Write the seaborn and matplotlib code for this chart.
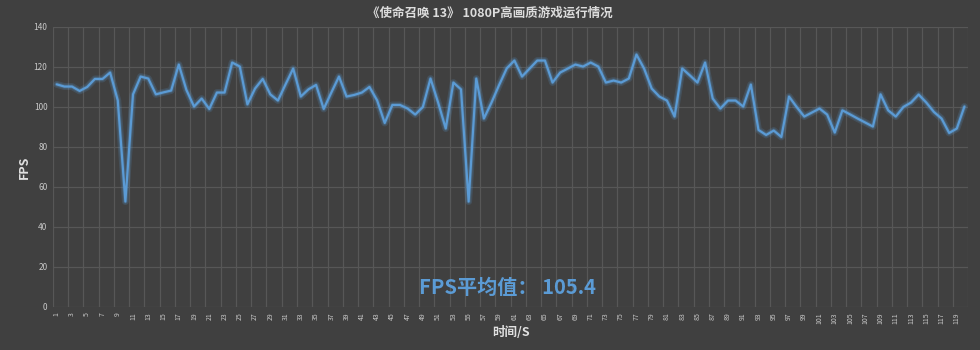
import numpy as np
import pandas as pd
import matplotlib
matplotlib.use("Agg")
import matplotlib.pyplot as plt
import seaborn as sns

# ---- data ----
seconds = list(range(1, 121))
fps = [111.3, 110.2, 110.2, 108.0, 110.0, 114.0, 114.0, 117.2, 103.3, 52.7,
       106.3, 115.2, 114.2, 106.3, 107.3, 108.2, 121.2, 108.5, 100.2, 104.2,
       99.0, 107.2, 107.2, 122.2, 120.2, 101.3, 109.2, 114.0, 106.3, 103.2,
       111.3, 119.2, 105.2, 108.8, 111.0, 99.0, 107.2, 115.2, 105.2, 106.0,
       107.2, 110.0, 103.3, 92.0, 101.0, 101.0, 99.2, 96.2, 100.0, 114.2,
       102.2, 89.2, 112.2, 108.8, 52.7, 114.2, 94.2, 102.2, 111.0, 119.3,
       123.2, 115.2, 119.2, 123.2, 123.2, 112.2, 117.2, 119.2, 121.2, 120.2,
       122.2, 120.2, 112.2, 113.2, 112.2, 114.2, 126.2, 119.2, 109.2, 105.2,
       103.2, 95.2, 119.2, 115.8, 112.2, 122.2, 104.2, 99.2, 103.2, 103.2,
       100.2, 111.2, 88.5, 86.0, 88.2, 85.0, 105.2, 100.0, 95.2, 97.2,
       99.2, 96.2, 87.2, 98.3, 96.3, 94.2, 92.2, 90.2, 106.3, 98.3,
       95.2, 100.0, 102.2, 106.2, 102.2, 97.5, 94.2, 87.0, 89.2, 100.2]
y_ticks = [0, 20, 40, 60, 80, 100, 120, 140]
x_tick_labels = [str(i) for i in range(1, 120, 2)]
title = "《使命召唤 13》 1080P高画质游戏运行情况"
x_label = "时间/S"
y_label = "FPS"
avg_text = "FPS平均值： 105.4"

df = pd.DataFrame({"sec": seconds, "fps": fps})

sns.set_theme(style="dark")
fam = ["Noto Sans CJK SC", "DejaVu Sans"]
plt.rcParams["font.family"] = fam

bg = "#404040"
grid_c = "#575757"
txt_c = "#c8c8c8"
line_c = "#5b9bd5"

fig = plt.figure(figsize=(9.8, 3.5), dpi=100, facecolor=bg)
ax = fig.add_axes([0.054, 0.123, 0.934, 0.80])
ax.set_facecolor(bg)

# glow
sns.lineplot(data=df, x="sec", y="fps", ax=ax, color=line_c, linewidth=5,
             alpha=0.18, legend=False)
sns.lineplot(data=df, x="sec", y="fps", ax=ax, color=line_c, linewidth=3,
             alpha=0.25, legend=False)
sns.lineplot(data=df, x="sec", y="fps", ax=ax, color=line_c, linewidth=1.6,
             legend=False)

ax.set_xlim(0.5, 120.5)
ax.set_ylim(0, 140)
ax.set_yticks(y_ticks)
ax.set_yticklabels([str(v) for v in y_ticks], fontsize=6, color=txt_c)
ax.set_xticks(list(range(1, 120, 2)))
ax.set_xticklabels(x_tick_labels, rotation=90, fontsize=5, color=txt_c)
ax.tick_params(axis="both", length=0, pad=4)

# gridlines
for v in y_ticks:
    ax.axhline(v, color=grid_c, linewidth=0.9, zorder=0)
for xv in np.arange(0.5, 121, 2):
    ax.axvline(xv, color=grid_c, linewidth=0.9, zorder=0)
ax.grid(False)
for s in ax.spines.values():
    s.set_visible(False)

ax.set_xlabel(x_label, fontsize=9, fontweight="bold", color="#e0e0e0",
              family=fam, labelpad=1)
ax.set_ylabel(y_label, fontsize=9, fontweight="bold", color="#e0e0e0",
              family=fam, labelpad=2)

fig.text(0.5, 0.962, title, ha="center", va="center", fontsize=9,
         fontweight="bold", color="#dcdcdc", family=fam)
fig.text(0.518, 0.18, avg_text, ha="center", va="center", fontsize=14.5,
         fontweight="bold", color=line_c, family=fam)

fig.savefig("out.png", dpi=100, facecolor=bg)
